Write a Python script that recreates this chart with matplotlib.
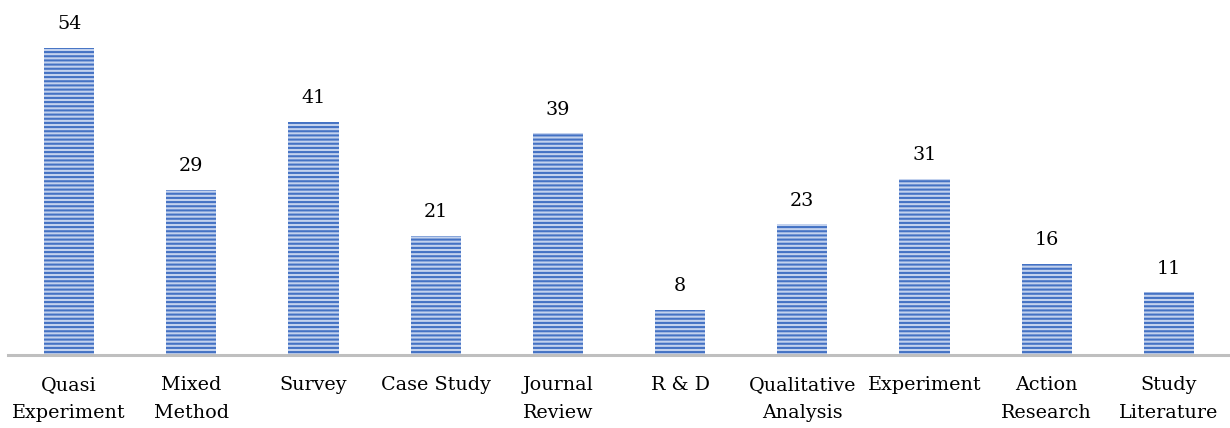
import matplotlib
matplotlib.use('Agg')
import matplotlib.pyplot as plt

categories = ['Quasi\nExperiment', 'Mixed\nMethod', 'Survey', 'Case Study', 'Journal\nReview',
              'R & D', 'Qualitative\nAnalysis', 'Experiment', 'Action\nResearch', 'Study\nLiterature']
counts = [54, 29, 41, 21, 39, 8, 23, 31, 16, 11]

plt.rcParams['font.family'] = ['DejaVu Serif']
plt.rcParams['hatch.linewidth'] = 1.5

fig = plt.figure(figsize=(12.3, 4.28), dpi=100)
ax = fig.add_axes([8 / 1230, 73 / 428, 1 - 8 / 1230, (355 - 14) / 428])

x = range(len(categories))
bars = ax.bar(x, counts, width=0.41, color='#C3D2EE', edgecolor='#4472C4',
              hatch='----', linewidth=0)
for b, v in zip(bars, counts):
    ax.text(b.get_x() + b.get_width() / 2, v + 2.6, str(v), ha='center', va='bottom',
            fontsize=13.8)

ax.set_xlim(-0.5, len(categories) - 0.5)
ax.set_ylim(0, 60)
ax.set_xticks(list(x))
ax.set_xticklabels(categories, fontsize=13.8, linespacing=1.7)
ax.tick_params(axis='x', length=0, pad=15)
ax.set_yticks([])
for s in ['top', 'right', 'left']:
    ax.spines[s].set_visible(False)
ax.spines['bottom'].set_color('#BFBFBF')
ax.spines['bottom'].set_linewidth(2.2)

fig.savefig('out.png', dpi=100)
